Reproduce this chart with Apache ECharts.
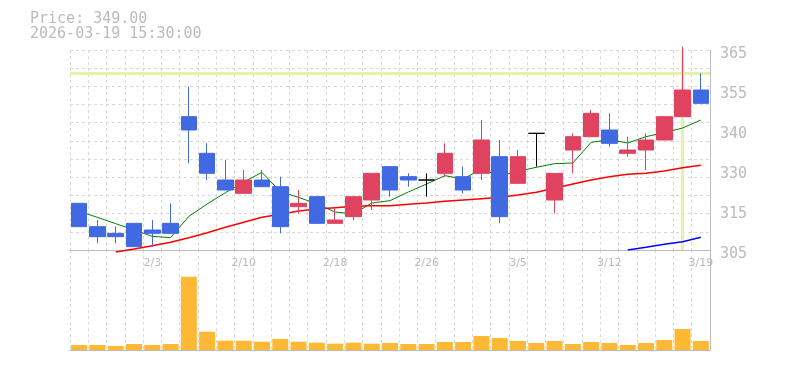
<!DOCTYPE html>
<html><head><meta charset="utf-8">
<script src="https://cdn.jsdelivr.net/npm/echarts@6/dist/echarts.min.js"></script>
<style>html,body{margin:0;padding:0;background:#fff}#c{width:785px;height:370px}</style>
</head><body><div id="c"></div>
<script>
const categories = ['1/28','1/29','1/30','2/2','2/3','2/4','2/5','2/6','2/9','2/10','2/12','2/13','2/16','2/17','2/18','2/19','2/20','2/24','2/25','2/26','2/27','3/2','3/3','3/4','3/5','3/6','3/9','3/10','3/11','3/12','3/13','3/16','3/17','3/18','3/19'];
// [open, close, low, high]
const ohlc = [
  [319,312,312,319],[312,309,307,314],[310,309,307,312],[313,306,306,313],[311,310,306,314],
  [313,310,310,319],[345,341,331,354],[334,328,326,337],[326,323,323,332],[322,326,322,329],
  [326,324,324,329],[324,312,310,327],[318,319,316,323],[321,313,313,321],[313,314,313,318],
  [315,321,314,321],[320,328,317,328],[330,323,321,330],[327,326,324,328],[326,326,321,328],
  [328,334,327,337],[327,323,322,330],[328,338,326,344],[333,315,313,338],[325,333,325,335],
  [340,340,330,340],[320,328,316,328],[335,339,328,340],[339,346,339,347],[341,337,336,346],
  [334,335,333,339],[335,338,329,340],[338,345,338,345],[345,353,345,366],[353,349,349,358]
];
const ma5 = [316.6,314.8,312.9,311.0,309.1,308.7,315.1,318.8,322.2,325.4,328.3,322.5,320.8,318.8,316.4,315.8,319.1,319.8,322.4,324.8,327.3,326.3,329.3,327.2,328.6,329.8,330.9,331.1,337.3,338.1,337.1,339.0,340.2,341.6,344.0];
const ma25 = [null,null,304.4,305.3,306.3,307.3,308.7,310.2,311.8,313.3,314.8,315.7,316.7,317.3,317.7,318.1,318.3,318.3,318.7,319.1,319.6,320.0,320.4,320.8,321.5,322.3,323.5,324.8,326.0,327.0,327.7,328.0,328.7,329.7,330.4];
const ma75 = [null,null,null,null,null,null,null,null,null,null,null,null,null,null,null,null,null,null,null,null,null,null,null,null,null,null,null,null,null,null,305.0,305.8,306.7,307.5,308.8];
const volume = [50,50,40,60,50,60,733,183,93,93,83,110,83,73,63,73,63,70,60,60,80,80,140,120,90,70,90,60,80,70,50,70,100,210,90];
const yTickLabels = ['305','315','330','340','355','365'];
const crossPrice = 358;
const crossIndex = 33;
const priceText = 'Price: 349.00';
const timeText = '2026-03-19 15:30:00';

const GRAY = '#bbbbbb';
const GRID = '#d9d9d9';
const chart = echarts.init(document.getElementById('c'), null, {renderer: 'canvas'});
chart.setOption({
  animation: false,
  backgroundColor: '#fff',
  graphic: [
    {type: 'text', left: 30, top: 12, style: {text: priceText, fill: GRAY, font: '15px "DejaVu Sans Mono"'}},
    {type: 'text', left: 30, top: 27, style: {text: timeText, fill: GRAY, font: '15px "DejaVu Sans Mono"'}}
  ],
  grid: [
    {left: 70, right: 75, top: 50, height: 200},
    {left: 70, right: 75, top: 250, height: 100}
  ],
  xAxis: [
    {type: 'category', gridIndex: 0, data: categories, boundaryGap: true,
     axisLine: {show: true, lineStyle: {color: GRAY, width: 1}},
     axisTick: {show: false},
     axisLabel: {interval: (i) => i % 5 === 4, color: GRAY, fontFamily: 'DejaVu Sans', fontSize: 11, margin: 8},
     splitLine: {show: true, interval: 0, lineStyle: {color: GRID, type: [3, 3], width: 1}}},
    {type: 'category', gridIndex: 1, data: categories, boundaryGap: true,
     axisLine: {show: true, lineStyle: {color: GRAY, width: 1}},
     axisTick: {show: false}, axisLabel: {show: false},
     splitLine: {show: true, interval: 0, lineStyle: {color: GRID, type: [3, 3], width: 1}}}
  ],
  yAxis: [
    {type: 'value', gridIndex: 0, position: 'right', min: 305, max: 365, scale: true,
     axisLine: {show: true, lineStyle: {color: GRAY, width: 1}}, axisTick: {show: false},
     axisLabel: {show: false}, splitLine: {show: false}},
    {type: 'value', gridIndex: 0, position: 'right', min: 0, max: yTickLabels.length - 1, interval: 1,
     axisLine: {show: false}, axisTick: {show: false}, splitLine: {show: false},
     axisLabel: {show: true, margin: 10, color: GRAY, fontFamily: 'DejaVu Sans Mono', fontSize: 15,
       verticalAlign: 'top', lineHeight: 9, formatter: (v) => yTickLabels[Math.round(v)]}},
    {type: 'value', gridIndex: 0, position: 'right', min: 0, max: 11, interval: 1,
     axisLine: {show: false}, axisTick: {show: false}, axisLabel: {show: false},
     splitLine: {show: true, lineStyle: {color: GRID, type: [3, 3], width: 1}}},
    {type: 'value', gridIndex: 1, position: 'right', min: 0, max: 1000,
     axisLine: {show: true, lineStyle: {color: GRAY, width: 1}}, axisTick: {show: false},
     axisLabel: {show: false}, splitLine: {show: false}}
  ],
  series: [
    {type: 'line', name: 'MA5', xAxisIndex: 0, yAxisIndex: 0, data: ma5, symbol: 'none', z: 3,
     lineStyle: {color: '#008000', width: 1},
     markLine: {z: 1, silent: true, symbol: 'none', label: {show: false},
       lineStyle: {color: '#e3f5a5', width: 3, type: 'solid'},
       emphasis: {disabled: true},
       data: [{yAxis: crossPrice}, {xAxis: categories[crossIndex]}]}},
    {type: 'line', name: 'MA25', xAxisIndex: 0, yAxisIndex: 0, data: ma25, symbol: 'none', z: 3, clip: false,
     lineStyle: {color: '#ff0000', width: 1.5}},
    {type: 'line', name: 'MA75', xAxisIndex: 0, yAxisIndex: 0, data: ma75, symbol: 'none', z: 3,
     lineStyle: {color: '#0000ff', width: 1.5}},
    {type: 'candlestick', xAxisIndex: 0, yAxisIndex: 0, data: ohlc, barWidth: 16, z: 5,
     itemStyle: {color: '#e0435f', color0: '#4169e1', borderColor: '#e0435f', borderColor0: '#4169e1',
       borderColorDoji: '#000000', borderWidth: 1}},
    {type: 'bar', xAxisIndex: 1, yAxisIndex: 3, data: volume, barWidth: 16,
     itemStyle: {color: '#ffb833'}}
  ]
});
</script></body></html>
